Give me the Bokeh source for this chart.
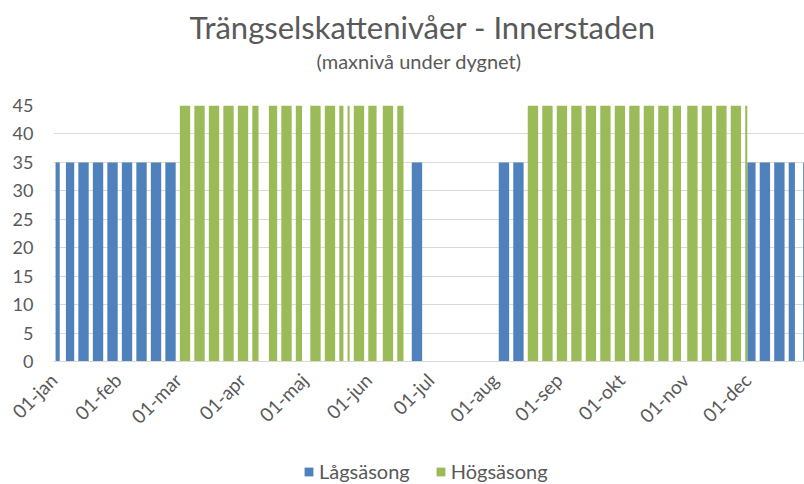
import math
import datetime as dt

from bokeh.plotting import figure
from bokeh.layouts import column
from bokeh.models import (ColumnDataSource, FixedTicker, Title, Legend, LegendItem,
                          Range1d, CustomJSTickFormatter)
from bokeh.embed import file_html
from bokeh.resources import INLINE

# ---------------- data (2020, charged weekday runs: first day, last day, max level SEK) -------------
low_starts = ["2020-01-02", "2020-01-07", "2020-01-13", "2020-01-20", "2020-01-27",
              "2020-02-03", "2020-02-10", "2020-02-17", "2020-02-24", "2020-06-22",
              "2020-08-03", "2020-08-10", "2020-12-01", "2020-12-07", "2020-12-14",
              "2020-12-21", "2020-12-28"]
low_ends = ["2020-01-03", "2020-01-10", "2020-01-17", "2020-01-24", "2020-01-31",
            "2020-02-07", "2020-02-14", "2020-02-21", "2020-02-28", "2020-06-26",
            "2020-08-07", "2020-08-14", "2020-12-04", "2020-12-11", "2020-12-18",
            "2020-12-23", "2020-12-30"]
low_levels = [35, 35, 35, 35, 35, 35, 35, 35, 35, 35, 35, 35, 35, 35, 35, 35, 35]

high_starts = ["2020-03-02", "2020-03-09", "2020-03-16", "2020-03-23", "2020-03-30",
               "2020-04-06", "2020-04-14", "2020-04-20", "2020-04-27", "2020-05-04",
               "2020-05-11", "2020-05-18", "2020-05-22", "2020-05-25", "2020-06-01",
               "2020-06-08", "2020-06-15",
               "2020-08-17", "2020-08-24", "2020-08-31", "2020-09-07", "2020-09-14",
               "2020-09-21", "2020-09-28", "2020-10-05", "2020-10-12", "2020-10-19",
               "2020-10-26", "2020-11-02", "2020-11-09", "2020-11-16", "2020-11-23",
               "2020-11-30"]
high_ends = ["2020-03-06", "2020-03-13", "2020-03-20", "2020-03-27", "2020-04-03",
             "2020-04-08", "2020-04-17", "2020-04-24", "2020-04-29", "2020-05-08",
             "2020-05-15", "2020-05-19", "2020-05-22", "2020-05-29", "2020-06-04",
             "2020-06-12", "2020-06-17",
             "2020-08-21", "2020-08-28", "2020-09-04", "2020-09-11", "2020-09-18",
             "2020-09-25", "2020-10-02", "2020-10-09", "2020-10-16", "2020-10-23",
             "2020-10-29", "2020-11-06", "2020-11-13", "2020-11-20", "2020-11-27",
             "2020-11-30"]
high_levels = [45, 45, 45, 45, 45, 45, 45, 45, 45, 45, 45, 45, 45, 45, 45, 45, 45,
               45, 45, 45, 45, 45, 45, 45, 45, 45, 45, 45, 45, 45, 45, 45, 45]

month_ticks = ["2020-01-01", "2020-02-01", "2020-03-01", "2020-04-01", "2020-05-01",
               "2020-06-01", "2020-07-01", "2020-08-01", "2020-09-01", "2020-10-01",
               "2020-11-01", "2020-12-01"]
month_labels = ["01-jan", "01-feb", "01-mar", "01-apr", "01-maj", "01-jun",
                "01-jul", "01-aug", "01-sep", "01-okt", "01-nov", "01-dec"]
y_ticks = [0, 5, 10, 15, 20, 25, 30, 35, 40, 45]

series_names = ["Lågsäsong", "Högsäsong"]
title_text = "Trängselskattenivåer - Innerstaden"
subtitle_text = "(maxnivå under dygnet)"

# ---------------- helpers ----------------
EPOCH = dt.datetime(1970, 1, 1)
ONE_DAY = dt.timedelta(days=1)


def d(s):
    return dt.datetime.fromisoformat(s)


def ms(s):
    return (d(s) - EPOCH).total_seconds() * 1000.0


def block_source(starts, ends, levels):
    return ColumnDataSource(dict(
        left=[d(s) for s in starts],
        right=[d(e) + ONE_DAY for e in ends],
        top=levels,
    ))


TEXT = "#595959"
GRID = "#D9D9D9"
BLUE = "#4F81BD"
GREEN = "#9BBB59"
FONT = "Lato"

low_src = block_source(low_starts, low_ends, low_levels)
high_src = block_source(high_starts, high_ends, high_levels)

# ---------------- main chart ----------------
p = figure(width=804, height=446, x_axis_type="datetime",
           output_backend="svg", toolbar_location=None,
           x_range=Range1d(d("2020-01-01"), d("2020-12-28T15:00")),
           y_range=Range1d(0, 45),
           min_border_left=53, min_border_right=0,
           min_border_top=105, min_border_bottom=85)
p.title = None
p.outline_line_color = None
p.background_fill_color = "white"
p.border_fill_color = "white"

p.quad(left="left", right="right", top="top", bottom=0, source=low_src,
       fill_color=BLUE, line_color=None)
p.quad(left="left", right="right", top="top", bottom=0, source=high_src,
       fill_color=GREEN, line_color=None)

# y axis
p.yaxis.ticker = FixedTicker(ticks=y_ticks)
p.yaxis.axis_line_color = None
p.yaxis.major_tick_line_color = None
p.yaxis.minor_tick_line_color = None
p.yaxis.major_tick_in = 0
p.yaxis.major_tick_out = 0
p.yaxis.major_label_standoff = 20
p.yaxis.major_label_text_font = FONT
p.yaxis.major_label_text_font_size = "18px"
p.yaxis.major_label_text_color = TEXT

# x axis
tick_ms = [ms(t) for t in month_ticks]
p.xaxis.ticker = FixedTicker(ticks=tick_ms)
p.xaxis.formatter = CustomJSTickFormatter(
    args=dict(tick_pos=tick_ms, tick_labels=month_labels), code="""
let best = -1, bd = Infinity;
for (let i = 0; i < tick_pos.length; i++) {
  const dd = Math.abs(tick_pos[i] - tick);
  if (dd < bd) { bd = dd; best = i; }
}
return (best >= 0 && bd < 43200000) ? tick_labels[best] : "";
""")
p.xaxis.axis_line_color = GRID
p.xaxis.axis_line_width = 1
p.xaxis.major_tick_line_color = None
p.xaxis.minor_tick_line_color = None
p.xaxis.major_tick_in = 0
p.xaxis.major_tick_out = 0
p.xaxis.major_label_orientation = math.pi / 4
p.xaxis.major_label_standoff = 15
p.xaxis.major_label_text_font = FONT
p.xaxis.major_label_text_font_size = "19px"
p.xaxis.major_label_text_color = TEXT

# grid
p.xgrid.visible = False
p.ygrid.grid_line_color = GRID
p.ygrid.grid_line_width = 1

# titles (first added sits closest to the plot)
p.add_layout(Title(text=" ", text_font_size="1px", standoff=30), "above")   # spacing
p.add_layout(Title(text=subtitle_text, align="left", offset=263, text_font=FONT,
                   text_font_size="20px", text_font_style="normal",
                   text_color=TEXT, standoff=0), "above")
p.add_layout(Title(text=title_text, align="left", offset=136, text_font=FONT,
                   text_font_size="31px", text_font_style="normal",
                   text_color=TEXT, standoff=1), "above")

# ---------------- legend strip under the chart ----------------
q = figure(width=804, height=38, output_backend="svg", toolbar_location=None,
           x_range=Range1d(0, 1), y_range=Range1d(0, 1),
           x_axis_location=None, y_axis_location=None,
           min_border_left=0, min_border_right=0, min_border_top=0, min_border_bottom=0)
q.title = None
q.outline_line_color = None
q.xgrid.visible = False
q.ygrid.visible = False
q.border_fill_color = "white"
q_low = q.quad(left="left", right="right", top="top", bottom=0, source=low_src,
               fill_color=BLUE, line_color=None)
q_high = q.quad(left="left", right="right", top="top", bottom=0, source=high_src,
                fill_color=GREEN, line_color=None)

legend = Legend(items=[LegendItem(label=series_names[0], renderers=[q_low]),
                       LegendItem(label=series_names[1], renderers=[q_high])],
                orientation="horizontal", location=(250, 1),
                glyph_width=11, glyph_height=11, label_standoff=5, spacing=25,
                padding=0, margin=0, border_line_color=None,
                background_fill_alpha=0,
                label_text_font=FONT, label_text_font_size="20px",
                label_text_color=TEXT)
q.add_layout(legend)

layout = column(p, q, spacing=0)
open("out.html", "w").write(file_html(layout, INLINE))
